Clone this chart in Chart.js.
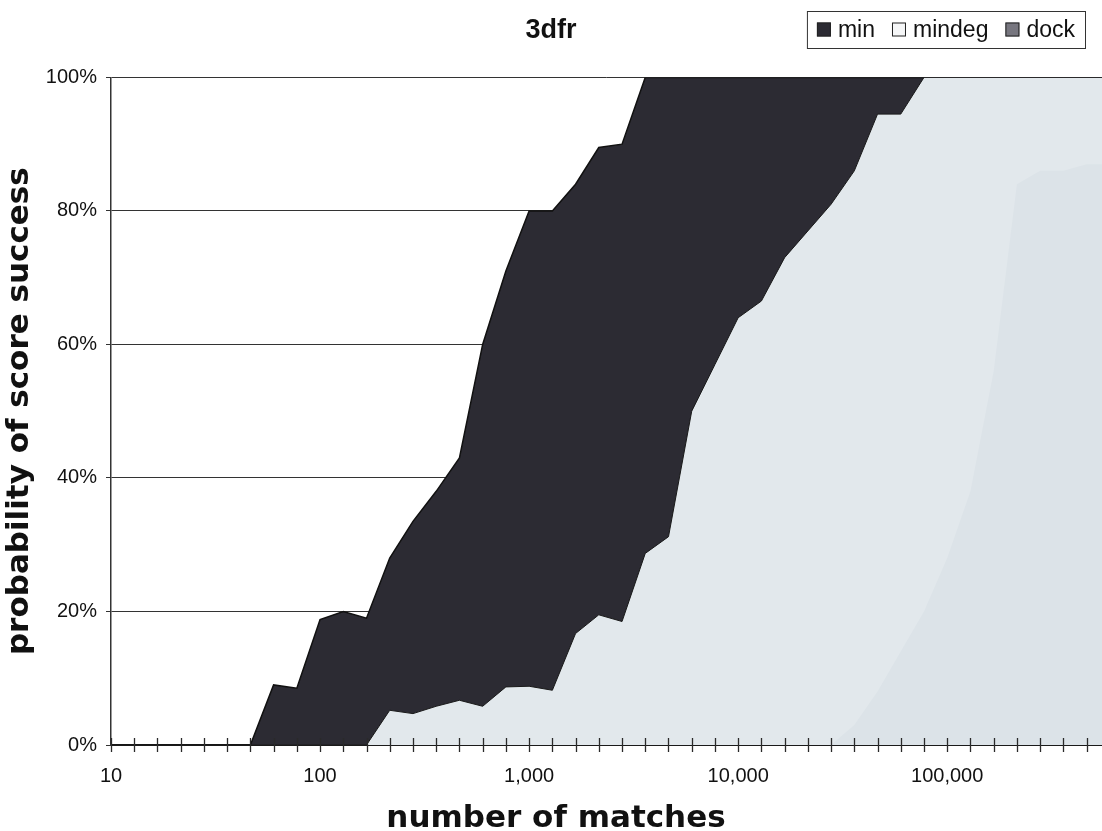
<!DOCTYPE html>
<html>
<head>
<meta charset="utf-8">
<title>3dfr</title>
<script src="https://cdn.jsdelivr.net/npm/chart.js@4/dist/chart.umd.min.js"></script>
<style>
  body { margin: 0; background: #fff; }
  #wrap { width: 1102px; height: 831px; overflow: hidden; }
</style>
</head>
<body>
<div id="wrap"><canvas id="chart" width="1102" height="831"></canvas></div>
<script>
// number of matches (categories, 9 per decade)
const matches = [10, 12.92, 16.68, 21.54, 27.83, 35.94, 46.42, 59.95, 77.43,
    100, 129.2, 166.8, 215.4, 278.3, 359.4, 464.2, 599.5, 774.3,
    1000, 1292, 1668, 2154, 2783, 3594, 4642, 5995, 7743,
    10000, 12915, 16681, 21544, 27826, 35938, 46416, 59948, 77426,
    100000, 129155, 166810, 215443, 278256, 359381, 464159, 599484];

// probability of score success (%)
const minValues = [0, 0, 0, 0, 0, 0, 0, 9, 8.5,
    18.8, 20, 19, 28, 33.5, 38, 43, 60, 71,
    80, 80, 84, 89.5, 90, 100, 100, 100, 100,
    100, 100, 100, 100, 100, 100, 100, 100, 100,
    100, 100, 100, 100, 100, 100, 100, 100];
const mindegValues = [0, 0, 0, 0, 0, 0, 0, 0, 0,
    0, 0, 0, 5.2, 4.7, 5.8, 6.7, 5.8, 8.7,
    8.8, 8.2, 16.7, 19.5, 18.5, 28.7, 31.2, 50, 57,
    64, 66.5, 73, 77, 81, 86, 94.5, 94.5, 100,
    100, 100, 100, 100, 100, 100, 100, 100];
const dockValues = [0, 0, 0, 0, 0, 0, 0, 0, 0,
    0, 0, 0, 0, 0, 0, 0, 0, 0,
    0, 0, 0, 0, 0, 0, 0, 0, 0,
    0, 0, 0, 0, 0, 3, 8, 14, 20,
    28, 38, 56, 84, 86, 86, 87, 87];

const seriesNames = ['min', 'mindeg', 'dock'];
const yTicks = [0, 20, 40, 60, 80, 100];
const xTitle = 'number of matches';

const textColor = '#111';
const sansFont = '"Liberation Sans", Arial, sans-serif';
const titleFont = 'bold 31px "DejaVu Sans", sans-serif';

function toPoints(values) {
    return matches.map((m, i) => ({ x: m, y: values[i] }));
}

function isDecade(v) {
    const l = Math.log10(v);
    return Math.abs(l - Math.round(l)) < 1e-6;
}

// tick marks crossing the x axis
const crossTicks = {
    id: 'crossTicks',
    afterDatasetsDraw(chart) {
        const ctx = chart.ctx;
        const xs = chart.scales.x;
        const bottom = chart.chartArea.bottom;
        ctx.save();
        ctx.strokeStyle = '#2a2a2a';
        ctx.lineWidth = 1.3;
        xs.ticks.forEach(t => {
            const px = Math.round(xs.getPixelForValue(t.value)) + 0.5;
            ctx.beginPath();
            ctx.moveTo(px, bottom - 7);
            ctx.lineTo(px, bottom + 7);
            ctx.stroke();
        });
        ctx.restore();
    }
};

// x axis title, centred on the page like the original
const pageXTitle = {
    id: 'pageXTitle',
    afterDraw(chart) {
        const ctx = chart.ctx;
        ctx.save();
        ctx.font = titleFont;
        ctx.fillStyle = textColor;
        ctx.textAlign = 'center';
        ctx.textBaseline = 'middle';
        ctx.fillText(xTitle, chart.width / 2 + 5, chart.height - 12);
        ctx.restore();
    }
};

// boxed legend on the title line
const boxLegend = {
    id: 'boxLegend',
    afterDraw(chart) {
        const ctx = chart.ctx;
        const swatches = ['#2c2b33', '#f6f7f8', '#77767f'];
        const box = 14, gap = 7, itemGap = 17, padX = 10;
        ctx.save();
        ctx.font = '23px ' + sansFont;
        const widths = seriesNames.map(n => ctx.measureText(n).width);
        let total = padX * 2;
        widths.forEach((w, i) => { total += box + gap + w + (i ? itemGap : 0); });
        const right = chart.width - 17;
        const left = right - total;
        const top = 11, h = 37;
        const cy = top + h / 2;
        ctx.fillStyle = '#fff';
        ctx.fillRect(left, top, total, h);
        ctx.strokeStyle = '#333';
        ctx.lineWidth = 1;
        ctx.strokeRect(left + 0.5, top + 0.5, total, h);
        let x = left + padX;
        ctx.textBaseline = 'middle';
        seriesNames.forEach((n, i) => {
            ctx.fillStyle = swatches[i];
            ctx.fillRect(x, cy - box / 2, box, box);
            ctx.strokeStyle = '#222';
            ctx.strokeRect(x + 0.5, cy - box / 2 + 0.5, box - 1, box - 1);
            x += box + gap;
            ctx.fillStyle = textColor;
            ctx.fillText(n, x, cy + 1);
            x += widths[i] + itemGap;
        });
        ctx.restore();
    }
};

const ctx = document.getElementById('chart').getContext('2d');
new Chart(ctx, {
    type: 'line',
    data: {
        datasets: [
            {
                label: seriesNames[0],
                data: toPoints(minValues),
                fill: 'origin',
                backgroundColor: '#2c2b33',
                borderColor: '#111',
                borderWidth: 1.5,
                pointRadius: 0,
                order: 3
            },
            {
                label: seriesNames[1],
                data: toPoints(mindegValues),
                fill: 'origin',
                backgroundColor: '#e2e8ec',
                borderColor: '#1a1a1a',
                borderWidth: 1,
                pointRadius: 0,
                order: 2
            },
            {
                label: seriesNames[2],
                data: toPoints(dockValues),
                fill: 'origin',
                backgroundColor: '#dce3e8',
                borderColor: 'rgba(0,0,0,0)',
                borderWidth: 0,
                pointRadius: 0,
                order: 1
            }
        ]
    },
    options: {
        responsive: false,
        animation: false,
        layout: { padding: 0 },
        plugins: {
            legend: { display: false },
            tooltip: { enabled: false },
            title: {
                display: true,
                text: '3dfr',
                color: textColor,
                font: { family: sansFont, size: 27, weight: 'bold' },
                padding: { top: 14, bottom: 31 }
            }
        },
        scales: {
            x: {
                type: 'logarithmic',
                min: 10,
                max: 550000,
                z: 1,
                afterBuildTicks(scale) {
                    scale.ticks = matches.filter(v => v >= scale.min && v <= scale.max)
                        .map(v => ({ value: v }));
                },
                afterFit(scale) {
                    scale.height = 86;
                    scale.paddingLeft = 0;
                    scale.paddingRight = 0;
                },
                grid: { display: true, drawOnChartArea: false, drawTicks: false },
                border: { display: true, color: '#1a1a1a', width: 2 },
                ticks: {
                    autoSkip: false,
                    maxRotation: 0,
                    padding: 19,
                    color: textColor,
                    font: { family: sansFont, size: 20 },
                    callback: v => isDecade(v) ? Number(v).toLocaleString('en-US') : ''
                },
                title: { display: false }
            },
            y: {
                min: 0,
                max: 100,
                afterBuildTicks(scale) {
                    scale.ticks = yTicks.map(v => ({ value: v }));
                },
                afterFit(scale) { scale.width = 111; },
                grid: { color: '#333', lineWidth: 1, tickLength: 5 },
                border: { display: true, color: '#333', width: 1.5 },
                ticks: {
                    padding: 9,
                    color: textColor,
                    font: { family: sansFont, size: 20 },
                    callback: v => v + '%'
                },
                title: {
                    display: true,
                    text: 'probability of score success',
                    color: textColor,
                    font: { family: '"DejaVu Sans", sans-serif', size: 31, weight: 'bold', lineHeight: 0.8 },
                    padding: { top: 8, bottom: 0 }
                }
            }
        }
    },
    plugins: [crossTicks, boxLegend, pageXTitle]
});
</script>
</body>
</html>
